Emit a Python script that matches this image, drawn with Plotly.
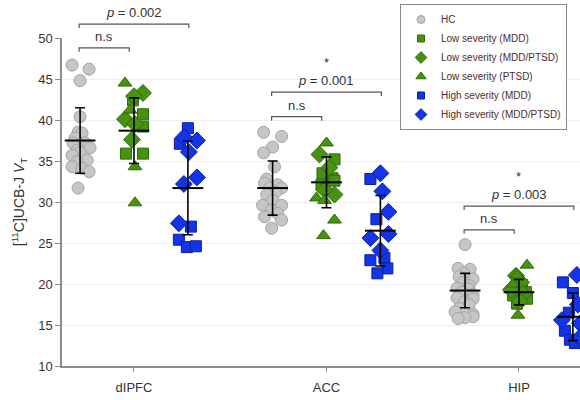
import plotly.graph_objects as go

# ---------------------------------------------------------------- data
regions = ["dIPFC", "ACC", "HIP"]
y_tick_values = [10, 15, 20, 25, 30, 35, 40, 45, 50]

# Healthy controls
hc_dlpfc = [46.7, 46.2, 44.8, 40.4, 38.5, 38.4, 37.8, 37.2, 37.2, 36.8, 36.6, 36.3,
            36.0, 35.7, 35.1, 34.9, 34.3, 34.1, 33.7, 31.7]
hc_acc = [38.5, 38.0, 36.7, 36.0, 34.3, 32.8, 32.3, 32.1, 31.7, 31.7, 31.2, 30.9,
          30.2, 29.6, 29.6, 29.0, 28.6, 28.2, 27.8, 26.8]
hc_hip = [24.8, 21.9, 21.8, 21.3, 20.9, 20.6, 20.2, 19.8, 19.5, 19.4, 19.0, 18.7,
          18.3, 18.2, 17.8, 17.5, 17.0, 16.6, 16.3, 16.0, 15.9, 15.8]

# Low severity
low_mdd_dlpfc = [42.4, 40.7, 39.2, 35.9, 35.9]
low_mdd_acc = [35.2, 33.5, 32.9, 32.1, 32.6]
low_mdd_hip = [19.9, 19.0, 18.2, 17.6, 18.6]

low_mix_dlpfc = [43.3, 42.9, 40.1, 39.5, 37.6]
low_mix_acc = [35.8, 34.2, 30.9, 31.5]
low_mix_hip = [21.0, 20.2, 19.3, 18.8, 17.9]

low_ptsd_dlpfc = [44.5, 41.2, 34.3, 29.9]
low_ptsd_acc = [37.2, 30.5, 30.2, 27.8, 25.9]
low_ptsd_hip = [22.3, 21.1, 20.0, 16.2]

# High severity
high_mdd_dlpfc = [39.0, 37.1, 27.0, 25.4, 24.5, 24.6]
high_mdd_acc = [32.8, 27.9, 22.9, 23.2, 21.9, 21.3]
high_mdd_hip = [20.2, 18.9, 16.5, 14.3, 13.2, 12.8]

high_mix_dlpfc = [37.9, 37.5, 36.1, 33.0, 32.2, 27.4]
high_mix_acc = [33.5, 31.3, 28.8, 25.6, 26.1, 24.1]
high_mix_hip = [21.1, 17.5, 15.6, 15.2, 13.5]

# Group mean and SD per region
hc_mean = [37.5, 31.7, 19.2]
hc_sd = [4.0, 3.3, 2.1]
low_mean = [38.7, 32.4, 19.0]
low_sd = [4.0, 3.1, 1.55]
high_mean = [31.7, 26.5, 16.0]
high_sd = [5.7, 4.3, 2.9]

# Comparison labels
p_labels = ["p = 0.002", "p = 0.001", "p = 0.003"]
p_star = [False, True, True]
p_bracket_level = [51.7, 43.4, 29.5]
ns_bracket_level = [48.8, 40.4, 26.6]

# ---------------------------------------------------------------- point spread (px)
jit_hc = [
    [-8, 9, 0, 0, -2, 2, -5, -7, 5, 8, 10, -3, 0, -8, 7, -3, -8, 2, 9, -2],
    [-9, 9, 0, -9, 2, -6, -8, 5, -3, 9, 3, -6, 0, -10, 9, -1, 5, -8, 9, -1],
    [0, -7, 5, -1, -6, 8, -2, 4, -8, 3, -3, 8, -8, 8, -1, 4, -6, -10, 8, 8, 0, -7],
]
jit_low_mdd = [[-1, 9, 9, -8, 9], [8, -4, 6, -5, 8], [3, 7, 8, -2, -6]]
jit_low_mix = [[9, 0, -9, 1, -2], [-7, 3, 8, -2], [-3, 2, -8, 4, 1]]
jit_low_ptsd = [[-9, -4, 1, 1], [0, -10, -2, 8, -3], [8, -2, -6, -1]]
jit_high_mdd = [[0, -8, 3, -9, -1, 8], [-10, -4, -10, 4, 7, -3], [-10, 0, -4, -8, -3, 2]]
jit_high_mix = [[-4, 9, 1, 9, -4, -9], [0, 2, 8, -10, 8, 0], [4, 5, -11, 7, 7]]

# ---------------------------------------------------------------- geometry
X_MIN, X_MAX = -0.374, 2.317
PLOT_W = 518
PLOT_H = 328
PX_PER_UNIT = PLOT_W / (X_MAX - X_MIN)
GROUP_OFFSET = {"hc": -0.28, "low": 0.0, "high": 0.28}
Y_MIN, Y_MAX = 10, 50

GRAY, GRAY_EDGE = "#c6c6c6", "#a2a2a2"
GREEN, GREEN_EDGE = "#47920f", "#2f6a08"
BLUE, BLUE_EDGE = "#1434e8", "#0b1f9a"
FONT = "Liberation Sans, Arial, sans-serif"
TEXT = "#333333"
LEGEND_TEXT = "#4f2c2c"


def to_paper(v):
    return (v - Y_MIN) / (Y_MAX - Y_MIN)


def positions(group, values_by_region, jitter_by_region):
    xs, ys = [], []
    for r, (vals, jit) in enumerate(zip(values_by_region, jitter_by_region)):
        for v, j in zip(vals, jit):
            xs.append(r + GROUP_OFFSET[group] + j / PX_PER_UNIT)
            ys.append(v)
    return xs, ys


series = [
    ("HC", "hc", [hc_dlpfc, hc_acc, hc_hip], jit_hc, "circle", 12, GRAY, GRAY_EDGE, 8),
    ("Low severity (MDD)", "low", [low_mdd_dlpfc, low_mdd_acc, low_mdd_hip], jit_low_mdd,
     "square", 11, GREEN, GREEN_EDGE, 7),
    ("Low severity (MDD/PTSD)", "low", [low_mix_dlpfc, low_mix_acc, low_mix_hip], jit_low_mix,
     "diamond", 13, GREEN, GREEN_EDGE, 9),
    ("Low severity (PTSD)", "low", [low_ptsd_dlpfc, low_ptsd_acc, low_ptsd_hip], jit_low_ptsd,
     "triangle-up", 12, GREEN, GREEN_EDGE, 9),
    ("High severity (MDD)", "high", [high_mdd_dlpfc, high_mdd_acc, high_mdd_hip], jit_high_mdd,
     "square", 11, BLUE, BLUE_EDGE, 7),
    ("High severity (MDD/PTSD)", "high", [high_mix_dlpfc, high_mix_acc, high_mix_hip], jit_high_mix,
     "diamond", 13, BLUE, BLUE_EDGE, 9),
]

fig = go.Figure()

# legend entries (small symbols)
for name, _, _, _, symbol, _, fill, edge, lsize in series:
    fig.add_trace(go.Scatter(
        x=[None], y=[None], mode="markers", name=name, showlegend=True,
        marker=dict(symbol=symbol, size=lsize, color=fill, line=dict(color=edge, width=1)),
    ))

# individual subjects
for name, group, vals, jit, symbol, size, fill, edge, _ in series:
    x, y = positions(group, vals, jit)
    fig.add_trace(go.Scatter(
        x=x, y=y, mode="markers", name=name, showlegend=False, cliponaxis=False,
        marker=dict(symbol=symbol, size=size, color=fill, line=dict(color=edge, width=1)),
    ))

# mean +/- SD
for group, mean, sd in [("hc", hc_mean, hc_sd), ("low", low_mean, low_sd), ("high", high_mean, high_sd)]:
    fig.add_trace(go.Scatter(
        x=[r + GROUP_OFFSET[group] for r in range(len(regions))], y=mean,
        mode="markers", showlegend=False, cliponaxis=False,
        marker=dict(symbol="line-ew", size=22, color="black", line=dict(color="black", width=2)),
        error_y=dict(type="data", array=sd, visible=True, color="black", thickness=1.6, width=5),
    ))

# significance brackets
BRACKET_COLOR = "#555555"
LEG = 0.012
shapes, annotations = [], []
for r in range(len(regions)):
    hc_x = r + GROUP_OFFSET["hc"] - 0.005
    for level, x1, label, star in [
        (p_bracket_level[r], r + GROUP_OFFSET["high"] + 0.005, p_labels[r], p_star[r]),
        (ns_bracket_level[r], r - 0.025, "n.s", False),
    ]:
        yp = to_paper(level)
        path = f"M {hc_x} {yp - LEG} L {hc_x} {yp} L {x1} {yp} L {x1} {yp - LEG}"
        shapes.append(dict(type="path", xref="x", yref="paper", path=path,
                           line=dict(color=BRACKET_COLOR, width=1.2)))
        text = label.replace("p =", "<i>p</i> =")
        annotations.append(dict(x=(hc_x + x1) / 2, y=yp, xref="x", yref="paper",
                                text=text, showarrow=False, yanchor="bottom", yshift=2,
                                font=dict(size=13, color=TEXT, family=FONT)))
        if star:
            annotations.append(dict(x=(hc_x + x1) / 2, y=yp, xref="x", yref="paper",
                                    text="*", showarrow=False, yanchor="bottom", yshift=20,
                                    font=dict(size=13, color=TEXT, family=FONT)))

fig.update_layout(
    width=580, height=400,
    margin=dict(l=62, r=0, t=38, b=34),
    paper_bgcolor="white", plot_bgcolor="white",
    font=dict(family=FONT, size=13, color=TEXT),
    shapes=shapes, annotations=annotations,
    legend=dict(
        x=(400 - 62) / PLOT_W, y=1 + 34 / PLOT_H, xanchor="left", yanchor="top",
        bgcolor="white", bordercolor="#8a8a8a", borderwidth=1,
        font=dict(size=10, color=LEGEND_TEXT, family=FONT),
        traceorder="normal", itemwidth=30,
    ),
    xaxis=dict(
        range=[X_MIN, X_MAX], tickvals=list(range(len(regions))), ticktext=regions,
        showgrid=False, zeroline=False, showline=True, linecolor="#8c8c8c", linewidth=1.5,
        ticks="outside", ticklen=4, tickwidth=1.2, tickcolor="#8c8c8c",
        tickfont=dict(size=13, color=TEXT), ticklabelstandoff=5,
    ),
    yaxis=dict(
        range=[Y_MIN, Y_MAX], tickvals=y_tick_values, showgrid=True, gridcolor="#eeeeee",
        zeroline=False, showline=True, linecolor="#8c8c8c", linewidth=1.5,
        ticks="outside", ticklen=5, tickwidth=1.2, tickcolor="#8c8c8c",
        tickfont=dict(size=13, color=TEXT),
        title=dict(text="[<sup>11</sup>C]UCB-J <i>V</i><sub>T</sub>", font=dict(size=14, color=TEXT),
                   standoff=10),
    ),
)

fig.write_html("out.html")
